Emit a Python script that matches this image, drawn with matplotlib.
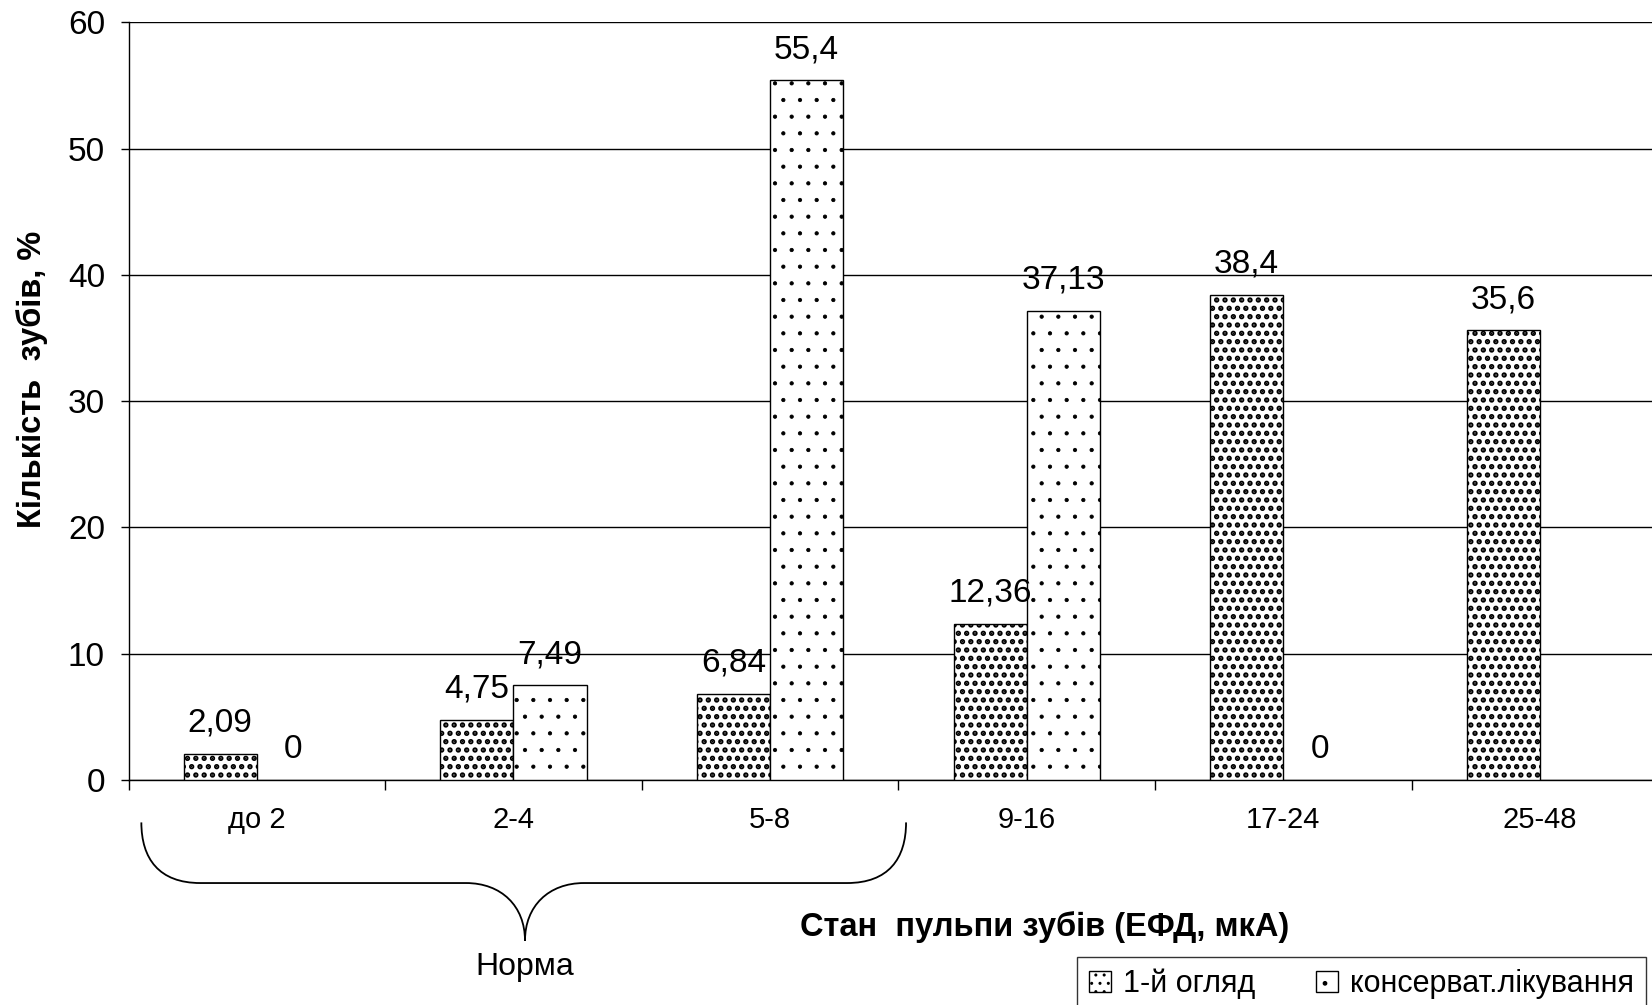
import matplotlib.pyplot as plt
import numpy as np
from matplotlib.path import Path
from matplotlib.patches import PathPatch, Rectangle

plt.rcParams['font.family'] = ['Liberation Sans', 'DejaVu Sans']

categories = ['до 2', '2-4', '5-8', '9-16', '17-24', '25-48']
first_exam = [2.09, 4.75, 6.84, 12.36, 38.4, 35.6]
treatment = [0, 7.49, 55.4, 37.13, 0, np.nan]
series_names = ['1-й огляд', 'консерват.лікування']
hatches = ['..', '.']
hatch_lw = [2.6, 0.6]

fig = plt.figure(figsize=(16.52, 10.05), dpi=100)
ax = fig.add_axes([0.0778, 0.2239, 0.932, 0.754])

x = np.arange(len(categories))
w = 0.285

b1 = ax.bar(x - w / 2, first_exam, w, color='white', edgecolor='black',
            hatch=hatches[0], linewidth=1, zorder=3)
b2 = ax.bar(x + w / 2, treatment, w, color='white', edgecolor='black',
            hatch=hatches[1], linewidth=1, zorder=3)
for bars, hlw in [(b1, hatch_lw[0]), (b2, hatch_lw[1])]:
    for p in bars:
        if hasattr(p, 'set_hatch_linewidth'):
            p.set_hatch_linewidth(hlw)
        # zero-height bars leave no outline
        if p.get_height() == 0:
            p.set_linewidth(0)


def fmt(v):
    if v == int(v):
        return str(int(v))
    return str(v).replace('.', ',')


for xs, vals in [(x - w / 2, first_exam), (x + w / 2, treatment)]:
    for xi, v in zip(xs, vals):
        if np.isnan(v):
            continue
        ax.annotate(fmt(v), (xi, v), xytext=(0, 22), textcoords='offset points',
                    ha='center', va='center', fontsize=24)

ax.set_xlim(-0.5, len(categories) - 0.5)
ax.set_ylim(0, 60)
ax.set_yticks(range(0, 61, 10))
ax.yaxis.grid(True, color='black', linewidth=1)
ax.set_axisbelow(True)
ax.tick_params(axis='y', labelsize=24, length=6, width=1, pad=11)

ax.set_xticks(np.arange(-0.5, len(categories), 1))
ax.set_xticklabels([])
ax.tick_params(axis='x', which='major', length=7, width=1)
ax.set_xticks(x, minor=True)
ax.set_xticklabels(categories, minor=True, fontsize=21)
ax.tick_params(axis='x', which='minor', length=0, pad=19)

for s in ['top', 'right']:
    ax.spines[s].set_visible(False)
ax.spines['left'].set_linewidth(1)
ax.spines['bottom'].set_linewidth(1)

# brace under the first three groups
L, C, R = -0.45, 1.045, 2.53
yt, ym, yb = -0.056, -0.136, -0.212
r = 0.23
verts = [
    (L, yt), (L, yt + 0.6 * (ym - yt)), (L + 0.3 * r, ym), (L + r, ym),
    (C - r, ym),
    (C - 0.4 * r, ym), (C, ym + 0.4 * (yb - ym)), (C, yb),
    (C, ym + 0.4 * (yb - ym)), (C + 0.4 * r, ym), (C + r, ym),
    (R - r, ym),
    (R - 0.3 * r, ym), (R, yt + 0.6 * (ym - yt)), (R, yt),
]
codes = [Path.MOVETO, Path.CURVE4, Path.CURVE4, Path.CURVE4, Path.LINETO,
         Path.CURVE4, Path.CURVE4, Path.CURVE4,
         Path.CURVE4, Path.CURVE4, Path.CURVE4, Path.LINETO,
         Path.CURVE4, Path.CURVE4, Path.CURVE4]
ax.add_patch(PathPatch(Path(verts, codes), facecolor='none', edgecolor='black',
                       linewidth=1.3, transform=ax.get_xaxis_transform(),
                       clip_on=False))
ax.text(C, -0.247, 'Норма', transform=ax.get_xaxis_transform(),
        ha='center', va='center', fontsize=23)

fig.text(0.6326, 0.0776, 'Стан  пульпи зубів (ЕФД, мкА)', ha='center', va='center',
         fontsize=23.5, fontweight='bold')
fig.text(0.0194, 0.623, 'Кількість  зубів, %', rotation=90, ha='center', va='center',
         fontsize=23.5, fontweight='bold')

handles = []
for h, hlw in zip(hatches, hatch_lw):
    rect = Rectangle((0, 0), 1, 1, facecolor='white', edgecolor='black',
                     hatch=h, linewidth=1)
    if hasattr(rect, 'set_hatch_linewidth'):
        rect.set_hatch_linewidth(hlw)
    handles.append(rect)

leg = fig.legend(handles, series_names, loc='upper left', bbox_to_anchor=(0.652, 0.048),
                 borderaxespad=0, ncol=2, fontsize=22, frameon=True, fancybox=False,
                 edgecolor='black', handlelength=0.7, handleheight=0.7,
                 handletextpad=0.4, columnspacing=2.0, borderpad=0.4)
leg.get_frame().set_linewidth(1)

fig.savefig('out.png', dpi=100)
